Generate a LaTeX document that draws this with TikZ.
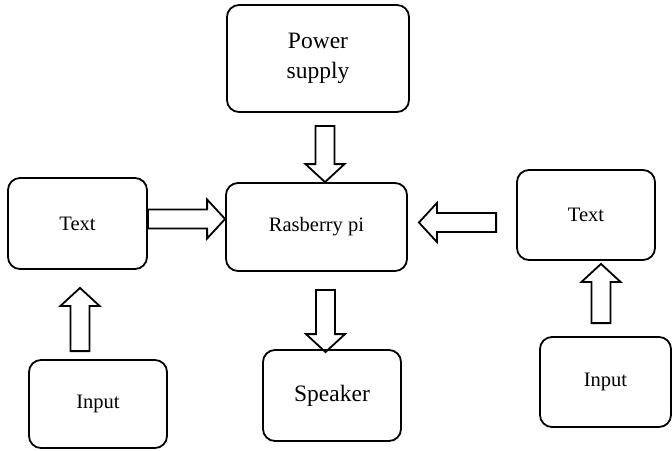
\documentclass[tikz,border=0pt]{standalone}
\usepackage{fontspec}
\setmainfont{Liberation Serif}
\usepackage{tikz}
\usetikzlibrary{calc}
\usetikzlibrary{shapes}

\tikzset{
  blk/.style={shape=rectangle, rounded corners=12pt, draw, line width=1.8pt, align=center, font=\fontsize{20.5}{30}\selectfont},
  bigtxt/.style={font=\fontsize{23.5}{30}\selectfont},
  blockarrow/.style={line width=1.8pt, line join=miter,
    to path={let \p1=(\tikztostart), \p2=(\tikztotarget), \p3=($(\p2)!18pt!(\p1)$) in
      ($(\p1)!9.5pt!90:(\p2)$) -- ($(\p3)!9.5pt!90:(\p2)$) -- ($(\p3)!19.5pt!90:(\p2)$) -- (\p2)
      -- ($(\p3)!19.5pt!-90:(\p2)$) -- ($(\p3)!9.5pt!-90:(\p2)$) -- ($(\p1)!9.5pt!-90:(\p2)$) -- cycle}}
}

\begin{document}
\begin{tikzpicture}[x=1pt, y=-1pt]
\useasboundingbox (0,0) rectangle (672,450);
\node [blk, bigtxt, minimum width=182pt, minimum height=107pt] (ps) at (318,58.5) {Power\\supply};
\node [blk, minimum width=181pt, minimum height=88pt] (pi) at (316.5,227) {Rasberry pi};
\node [blk, minimum width=139pt, minimum height=91pt] (tl) at (77.5,223.5) {Text};
\node [blk, minimum width=138pt, minimum height=90pt] (tr) at (586,215) {Text};
\node [blk, minimum width=138pt, minimum height=88pt] (il) at (98,404) {Input};
\node [blk, minimum width=131pt, minimum height=90pt] (ir) at (605.5,382) {Input};
\node [blk, bigtxt, minimum width=138pt, minimum height=91pt] (sp) at (332,395.5) {Speaker};
%% hollow arrows
\draw [blockarrow] ([xshift=7pt,yshift=-13pt]ps.south) to ([xshift=8.5pt]pi.north);
\draw [blockarrow] ([yshift=4.5pt]tl.east) to ([yshift=8pt]pi.west);
\draw [blockarrow] ([xshift=-20pt,yshift=-7.5pt]tr.west) to ([xshift=11pt,yshift=4.5pt]pi.east);
\draw [blockarrow] ([xshift=-4.5pt,yshift=13pt]ir.north) to ([xshift=15pt,yshift=-3pt]tr.south);
\draw [blockarrow] ([xshift=-18pt,yshift=8pt]il.north) to ([xshift=2.5pt,yshift=-18pt]tl.south);
\draw [blockarrow] ([xshift=9pt,yshift=-18pt]pi.south) to ([xshift=-6.5pt,yshift=-3pt]sp.north);
\end{tikzpicture}
\end{document}
